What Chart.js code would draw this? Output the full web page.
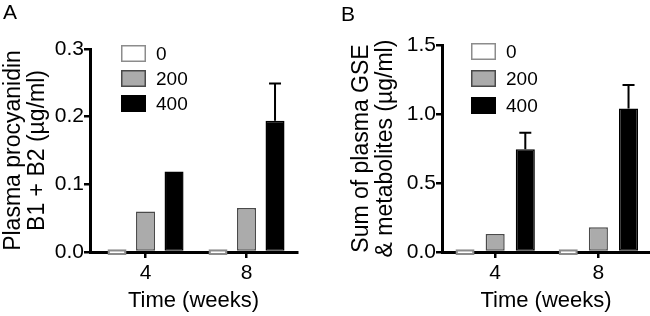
<!DOCTYPE html>
<html>
<head>
<meta charset="utf-8">
<script src="https://cdn.jsdelivr.net/npm/chart.js@4/dist/chart.umd.min.js"></script>
<style>
  body { margin: 0; background: #fff; }
  #wrap { position: relative; width: 650px; height: 316px; overflow: hidden; }
  .panel { position: absolute; top: 0; width: 325px; height: 316px; }
  .tag { position: absolute; font: 21px "Liberation Sans", Arial, sans-serif; line-height: 21px; color: #000; }
</style>
</head>
<body>
<div id="wrap">
  <div class="panel" style="left:0"><canvas id="chartA" width="325" height="316"></canvas></div>
  <div class="panel" style="left:325px"><canvas id="chartB" width="325" height="316"></canvas></div>
  <div class="tag" style="left:3px;top:1px">A</div>
  <div class="tag" style="left:341px;top:3px">B</div>
</div>
<script>
'use strict';

// data
var weeks = [4, 8];
var doseLabels = ['0', '200', '400'];

// panel A - plasma procyanidin B1 + B2 (ug/ml)
var procy0 = [0.004, 0.004];
var procy200 = [0.06, 0.065];
var procy400 = [0.119, 0.194];
var procy400Err = [0, 0.055];

// panel B - sum of plasma GSE & metabolites (ug/ml)
var gse0 = [0.02, 0.02];
var gse200 = [0.13, 0.18];
var gse400 = [0.745, 1.04];
var gse400Err = [0.12, 0.17];

var FONT = '"Liberation Sans", Arial, sans-serif';

// error bars (upper only, like the original)
var errorBarPlugin = {
  id: 'errorBars',
  afterDatasetsDraw: function(chart) {
    var ctx = chart.ctx;
    var yScale = chart.scales.y;
    chart.data.datasets.forEach(function(ds, i) {
      if (!ds.errorBars) return;
      var meta = chart.getDatasetMeta(i);
      meta.data.forEach(function(bar, j) {
        var e = ds.errorBars[j];
        if (!e) return;
        var top = yScale.getPixelForValue(ds.data[j] + e);
        ctx.save();
        ctx.strokeStyle = '#000';
        ctx.lineWidth = 2;
        ctx.beginPath();
        ctx.moveTo(bar.x, bar.y);
        ctx.lineTo(bar.x, top);
        ctx.moveTo(bar.x - 6, top);
        ctx.lineTo(bar.x + 6, top);
        ctx.stroke();
        ctx.restore();
      });
    });
  }
};

// boxed legend inside the plot, top left
var boxLegendPlugin = {
  id: 'boxLegend',
  afterDraw: function(chart, args, opts) {
    var ctx = chart.ctx;
    var area = chart.chartArea;
    ctx.save();
    chart.data.datasets.forEach(function(ds, i) {
      var x = area.left + opts.x;
      var y = area.top + opts.y + i * opts.gap;
      ctx.fillStyle = ds.backgroundColor;
      ctx.fillRect(x, y, opts.boxW, opts.boxH);
      ctx.strokeStyle = ds.borderColor;
      ctx.lineWidth = 1.5;
      ctx.strokeRect(x + 0.75, y + 0.75, opts.boxW - 1.5, opts.boxH - 1.5);
      ctx.fillStyle = '#000';
      ctx.font = '19px ' + FONT;
      ctx.textBaseline = 'middle';
      ctx.textAlign = 'left';
      ctx.fillText(ds.label, x + opts.boxW + 10, y + opts.boxH / 2 + 1);
    });
    ctx.restore();
  }
};

function makeDatasets(v0, v200, v400, err400, barPct, catPct, base0) {
  var common = { borderWidth: 1.5, borderSkipped: false, barPercentage: barPct, categoryPercentage: catPct };
  return [
    // the near-zero bars sit across the axis line in the original
    { label: doseLabels[0], data: v0, base: base0, clip: false, backgroundColor: '#ffffff', borderColor: '#8c8c8c', borderWidth: 2,
      borderSkipped: false, barPercentage: barPct, categoryPercentage: catPct },
    Object.assign({ label: doseLabels[1], data: v200, backgroundColor: '#ababab', borderColor: '#4a4a4a' }, common),
    Object.assign({ label: doseLabels[2], data: v400, backgroundColor: '#000000', borderColor: '#000000', errorBars: err400 }, common)
  ];
}

function makeChart(id, cfg) {
  var ctx = document.getElementById(id).getContext('2d');
  return new Chart(ctx, {
    type: 'bar',
    data: {
      labels: weeks,
      datasets: makeDatasets(cfg.v0, cfg.v200, cfg.v400, cfg.err, cfg.barPct, cfg.catPct, cfg.base0)
    },
    options: {
      responsive: false,
      animation: false,
      layout: { padding: { left: 0, right: cfg.padRight, top: cfg.padTop, bottom: 0 } },
      plugins: {
        legend: { display: false },
        tooltip: { enabled: false },
        boxLegend: cfg.legend
      },
      scales: {
        x: {
          type: 'linear',
          min: cfg.xMin,
          max: cfg.xMax,
          offset: false,
          afterBuildTicks: function(s) { s.ticks = weeks.map(function(v) { return { value: v }; }); },
          afterFit: function(s) { s.height = 64; },
          grid: { offset: false, drawOnChartArea: false, tickLength: 6, color: '#000', lineWidth: 2.5 },
          border: { color: '#000', width: 3 },
          ticks: { color: '#000', padding: 3, font: { family: FONT, size: 21 } },
          title: { display: true, text: 'Time (weeks)', color: '#000', padding: { top: 0, bottom: 2 }, font: { family: FONT, size: 22 } }
        },
        y: {
          min: 0,
          max: cfg.yMax,
          afterFit: function(s) { s.width = cfg.yWidth; },
          grid: { drawOnChartArea: false, tickLength: 6, color: '#000', lineWidth: 2.5 },
          border: { color: '#000', width: 3 },
          ticks: {
            stepSize: cfg.yStep,
            color: '#000',
            padding: 0,
            font: { family: FONT, size: 21 },
            callback: function(v) { return Number(v).toFixed(1); }
          },
          title: { display: true, text: cfg.yTitle, color: '#000', padding: { top: cfg.titlePad, bottom: 0 }, font: { family: FONT, size: 23, lineHeight: 1.02 } }
        }
      }
    },
    plugins: [errorBarPlugin, boxLegendPlugin]
  });
}

makeChart('chartA', {
  v0: procy0, v200: procy200, v400: procy400, err: procy400Err, base0: -0.0045,
  yMax: 0.3, yStep: 0.1, yTitle: ['Plasma procyanidin', 'B1 + B2 (\u00b5g/ml)'],
  yWidth: 90, padRight: 28, padTop: 49, titlePad: 2,
  xMin: 1.8, xMax: 10, barPct: 0.667, catPct: 0.847,
  legend: { x: 31, y: -4, gap: 25, boxW: 25, boxH: 17 }
});

makeChart('chartB', {
  v0: gse0, v200: gse200, v400: gse400, err: gse400Err, base0: -0.022,
  yMax: 1.5, yStep: 0.5, yTitle: ['Sum of plasma GSE', '& metabolites (\u00b5g/ml)'],
  yWidth: 117, padRight: 0, padTop: 45, titlePad: 25,
  xMin: 1.94, xMax: 10, barPct: 0.633, catPct: 0.876,
  legend: { x: 29, y: -2, gap: 27, boxW: 25, boxH: 17 }
});
</script>
</body>
</html>
